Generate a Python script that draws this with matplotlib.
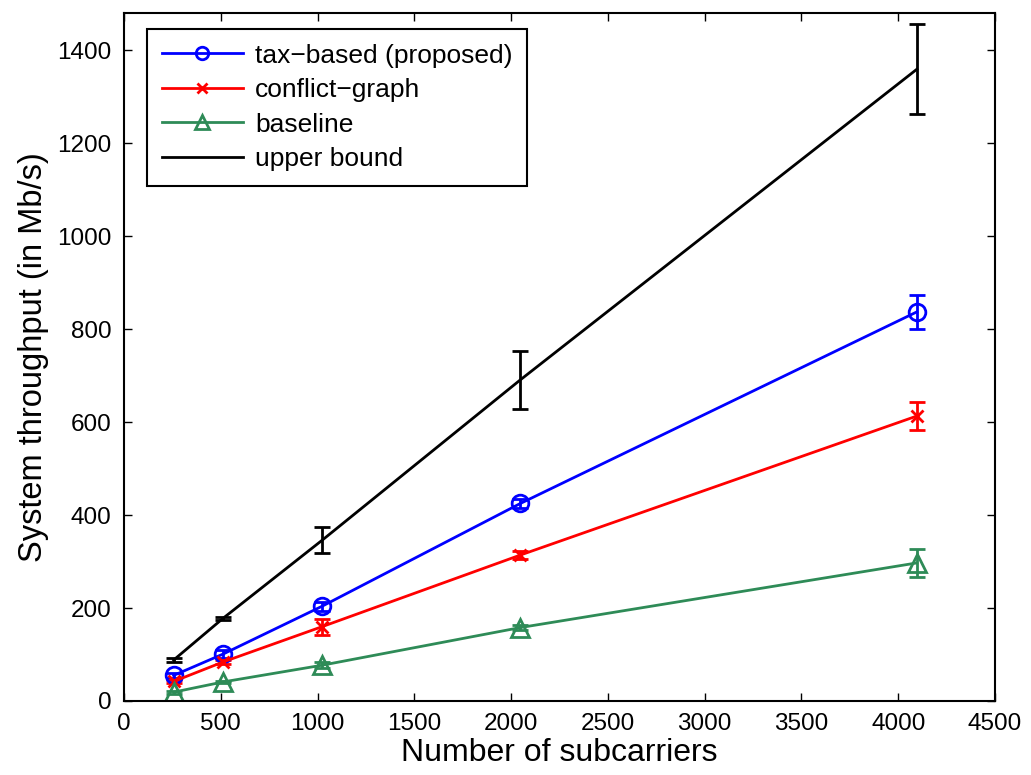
import matplotlib
matplotlib.use('Agg')
import matplotlib.pyplot as plt
import numpy as np

plt.rcParams['font.family'] = ['Liberation Sans', 'DejaVu Sans']

subcarriers = [256, 512, 1024, 2048, 4096]

tax_mean = [55, 101, 204, 425, 837]
tax_err = [5, 8, 10, 10, 36]
conf_mean = [42, 84, 160, 314, 613]
conf_err = [4, 5, 17, 8, 30]
base_mean = [19, 41, 77, 158, 297]
base_err = [3, 3, 6, 6, 30]
upper_mean = [88, 178, 346, 691, 1359]
upper_err = [4, 3, 28, 62, 97]

green = '#2e8b57'

fig = plt.figure(figsize=(10.31, 7.75), dpi=100)
ax = fig.add_axes([0.1203, 0.0955, 0.8448, 0.8877])

ax.errorbar(subcarriers, tax_mean, yerr=tax_err, color='blue', marker='o',
            markersize=12, markerfacecolor='none', markeredgewidth=2,
            linewidth=2, capsize=6, elinewidth=2, capthick=2,
            label='tax\u2212based (proposed)')
ax.errorbar(subcarriers, conf_mean, yerr=conf_err, color='red', marker='x',
            markersize=9, markeredgewidth=2, linewidth=2, capsize=6,
            elinewidth=2, capthick=2, label='conflict\u2212graph')
ax.errorbar(subcarriers, base_mean, yerr=base_err, color=green, marker='^',
            markersize=13, markerfacecolor='none', markeredgewidth=2,
            linewidth=2, capsize=6, elinewidth=2, capthick=2,
            label='baseline')
ax.errorbar(subcarriers, upper_mean, yerr=upper_err, color='black',
            linewidth=2, capsize=6, elinewidth=2, capthick=2,
            label='upper bound')

ax.set_xlim(0, 4500)
ax.set_ylim(0, 1480)
ax.set_xticks(np.arange(0, 4501, 500))
ax.set_yticks(np.arange(0, 1401, 200))
ax.tick_params(direction='in', labelsize=17.5, length=6, top=True, right=True,
               width=1, pad=9)
for s in ax.spines.values():
    s.set_linewidth(1.5)
ax.set_xlabel('Number of subcarriers', fontsize=23, labelpad=2)
ax.set_ylabel('System throughput (in Mb/s)', fontsize=23.5, labelpad=6)

handles, labels = ax.get_legend_handles_labels()
handles = [h[0] for h in handles]
leg = ax.legend(handles, labels, loc='upper left',
                bbox_to_anchor=(0.0264, 0.9767), borderaxespad=0,
                fontsize=19, fancybox=False, edgecolor='black', framealpha=1,
                handlelength=3.1, handletextpad=0.45, labelspacing=0.4,
                markerscale=0.75, borderpad=0.55)
leg.get_frame().set_linewidth(1.5)

fig.savefig('out.png', dpi=100)
